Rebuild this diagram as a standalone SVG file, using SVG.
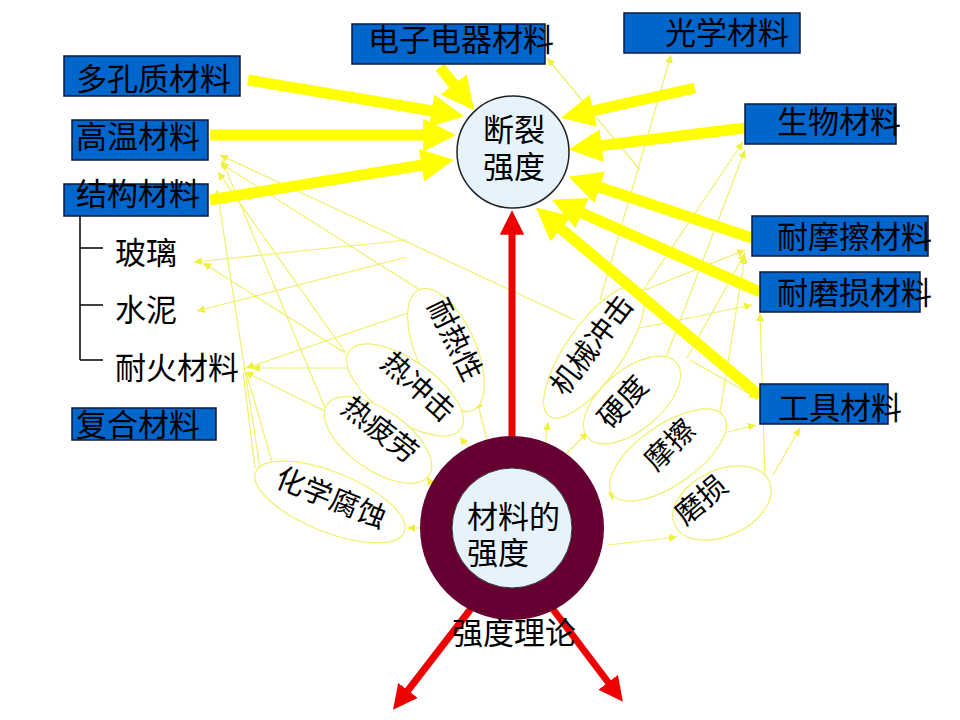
<svg xmlns="http://www.w3.org/2000/svg" width="960" height="720" viewBox="0 0 960 720">
<style>
.t{font-family:"Noto Sans CJK SC","Noto Sans CJK JP",sans-serif;font-size:31px;fill:#000}
.e{font-family:"Noto Sans CJK SC","Noto Sans CJK JP",sans-serif;font-size:29px;fill:#000}
.box{fill:#0066CC;stroke:#0a1a40;stroke-width:1.5}
.thin{stroke:#f0f06a;stroke-width:1.2;fill:none}
.ell{fill:#fff;stroke:#f0f06a;stroke-width:1.2}
.big{stroke:#FFFF00;stroke-width:11;fill:none;marker-end:url(#ya)}
.red{stroke:#EE0000;stroke-width:7;fill:none;marker-end:url(#ra)}
</style>
<defs>
<marker id="ya" viewBox="0 0 10 10" refX="6" refY="5" markerWidth="3" markerHeight="3" orient="auto"><path d="M0,0 L10,5 L0,10 z" fill="#FFFF00"/></marker>
<marker id="ra" viewBox="0 0 10 10" refX="6" refY="5" markerWidth="3.5" markerHeight="3.5" orient="auto"><path d="M0,0 L10,5 L0,10 z" fill="#EE0000"/></marker>
<marker id="sa" viewBox="0 0 10 10" refX="10" refY="5" markerWidth="8" markerHeight="8" markerUnits="userSpaceOnUse" orient="auto"><path d="M0,0 L10,5 L0,10 z" fill="#f0f040"/></marker>
</defs>
<rect width="960" height="720" fill="#fff"/>
<g id="connectors">
<g class="thin" marker-end="url(#sa)">
<line x1="575" y1="320" x2="220" y2="155"/>
<line x1="420" y1="290" x2="220" y2="163"/>
<line x1="345" y1="352" x2="218" y2="172"/>
<line x1="260" y1="468" x2="217" y2="190"/>
<line x1="325" y1="408" x2="222" y2="160"/>
<line x1="407" y1="240" x2="194" y2="262"/>
<line x1="345" y1="353" x2="203" y2="263"/>
<line x1="407" y1="257" x2="197" y2="311"/>
<line x1="408" y1="313" x2="246" y2="368"/>
<line x1="347" y1="368" x2="252" y2="368"/>
<line x1="327" y1="412" x2="245" y2="372"/>
<line x1="640" y1="170" x2="547" y2="58"/>
<line x1="600" y1="300" x2="671" y2="55"/>
<line x1="640" y1="295" x2="743" y2="142"/>
<line x1="665" y1="360" x2="745" y2="150"/>
<line x1="645" y1="290" x2="745" y2="250"/>
<line x1="687" y1="358" x2="745" y2="253"/>
<line x1="720" y1="412" x2="745" y2="256"/>
<line x1="640" y1="328" x2="752" y2="305"/>
<line x1="765" y1="478" x2="760" y2="313"/>
<line x1="690" y1="360" x2="757" y2="398"/>
<line x1="727" y1="432" x2="756" y2="425"/>
<line x1="773" y1="475" x2="800" y2="428"/>
<line x1="420" y1="528" x2="407" y2="528"/>
<line x1="437" y1="492" x2="427" y2="477"/>
<line x1="472" y1="452" x2="460" y2="437"/>
<line x1="488" y1="445" x2="477" y2="400"/>
<line x1="545" y1="446" x2="548" y2="422"/>
<line x1="565" y1="455" x2="588" y2="432"/>
<line x1="612" y1="486" x2="612" y2="500"/>
<line x1="608" y1="545" x2="677" y2="537"/>
</g>
<g class="thin">
<line x1="243" y1="372" x2="255" y2="468"/>
<line x1="246" y1="372" x2="272" y2="462"/>
</g>
</g>
<g id="n-naire"><ellipse class="ell" cx="446" cy="350" rx="30" ry="66" transform="rotate(-24 446 350)"/><text class="e" text-anchor="middle" transform="translate(455 340) rotate(64)" y="10">耐热性</text></g>
<g id="n-rechongji"><ellipse class="ell" cx="405" cy="390" rx="68" ry="30" transform="rotate(35 405 390)"/><text class="e" text-anchor="middle" transform="translate(418 387) rotate(42)" y="10">热冲击</text></g>
<g id="n-repilao"><ellipse class="ell" cx="378" cy="440" rx="62" ry="30" transform="rotate(35 378 440)"/><text class="e" text-anchor="middle" transform="translate(380 430) rotate(38)" y="10">热疲劳</text></g>
<g id="n-huaxue"><ellipse class="ell" cx="330" cy="502" rx="80" ry="30" transform="rotate(22 330 502)"/><text class="e" text-anchor="middle" transform="translate(331 498) rotate(22)" y="10">化学腐蚀</text></g>
<g id="n-jixie"><ellipse class="ell" cx="594" cy="352" rx="78" ry="28" transform="rotate(-55 594 352)"/><text class="e" text-anchor="middle" transform="translate(592 345) rotate(-53)" y="10">机械冲击</text></g>
<g id="n-yingdu"><ellipse class="ell" cx="632" cy="400" rx="58" ry="30" transform="rotate(-40 632 400)"/><text class="e" text-anchor="middle" transform="translate(623 402) rotate(-48)" y="10">硬度</text></g>
<g id="n-moca"><ellipse class="ell" cx="668" cy="455" rx="68" ry="30" transform="rotate(-35 668 455)"/><text class="e" text-anchor="middle" transform="translate(670 445) rotate(-45)" y="10">摩擦</text></g>
<g id="n-mosun"><ellipse class="ell" cx="722" cy="503" rx="52" ry="33" transform="rotate(-25 722 503)"/><text class="e" text-anchor="middle" transform="translate(701 500) rotate(-40)" y="10">磨损</text></g>
<g id="thick-arrows">
<line class="big" x1="248" y1="80" x2="451" y2="114"/>
<line class="big" x1="210" y1="135" x2="443" y2="135"/>
<line class="big" x1="210" y1="200" x2="441" y2="162"/>
<line class="big" x1="440" y1="67" x2="466" y2="100"/>
<line class="big" x1="695" y1="88" x2="574" y2="115"/>
<line class="big" x1="745" y1="128" x2="582" y2="148"/>
<line class="big" x1="752" y1="238" x2="581" y2="181"/>
<line class="big" x1="760" y1="292" x2="564" y2="205"/>
<line class="big" x1="760" y1="396" x2="546" y2="216"/>
<line class="red" x1="512" y1="445" x2="512" y2="220"/>
<line class="red" x1="473" y1="606" x2="399" y2="702"/>
<line class="red" x1="552" y1="608" x2="617" y2="694"/>
</g>
<g id="n-duoKong"><rect class="box" x="64" y="56" width="176" height="40"/><text class="t" x="76" y="90">多孔质材料</text></g>
<g id="n-gaowen"><rect class="box" x="72" y="120" width="136" height="40"/><text class="t" x="76" y="148">高温材料</text></g>
<g id="n-jiegou"><rect class="box" x="64" y="184" width="144" height="32"/><text class="t" x="76" y="205">结构材料</text></g>
<g id="n-fuhe"><rect class="box" x="72" y="408" width="144" height="32"/><text class="t" x="76" y="436">复合材料</text></g>
<g id="n-dianzi"><rect class="box" x="352" y="24" width="193" height="40"/><text class="t" x="368" y="51">电子电器材料</text></g>
<g id="n-guangxue"><rect class="box" x="624" y="13" width="176" height="40"/><text class="t" x="665" y="44">光学材料</text></g>
<g id="n-shengwu"><rect class="box" x="745" y="104" width="151" height="40"/><text class="t" x="777" y="133">生物材料</text></g>
<g id="n-naimoca"><rect class="box" x="752" y="216" width="176" height="40"/><text class="t" x="777" y="248">耐摩擦材料</text></g>
<g id="n-naimosun"><rect class="box" x="760" y="272" width="160" height="40"/><text class="t" x="777" y="304">耐磨损材料</text></g>
<g id="n-gongju"><rect class="box" x="760" y="384" width="128" height="40"/><text class="t" x="778" y="419">工具材料</text></g>
<g id="n-list">
<path d="M80,216 V360 M80,248 H103 M80,305 H103 M80,360 H103" stroke="#000" stroke-width="1.5" fill="none"/>
<text class="t" x="115" y="264">玻璃</text>
<text class="t" x="115" y="321">水泥</text>
<text class="t" x="115" y="379">耐火材料</text>
</g>
<g id="n-duanlie"><circle cx="513" cy="152" r="56" fill="#E6F3FC" stroke="#222" stroke-width="1.5"/><text class="t" x="483" y="141">断裂</text><text class="t" x="483" y="178">强度</text></g>
<g id="n-center"><circle cx="512" cy="528" r="92" fill="#660033"/><circle cx="512" cy="528" r="60" fill="#E6F3FC" stroke="#333" stroke-width="1"/><text class="t" x="467" y="528">材料的</text><text class="t" x="467" y="564">强度</text></g>
<g id="n-lilun"><text class="t" x="452" y="644">强度理论</text></g>
</svg>
